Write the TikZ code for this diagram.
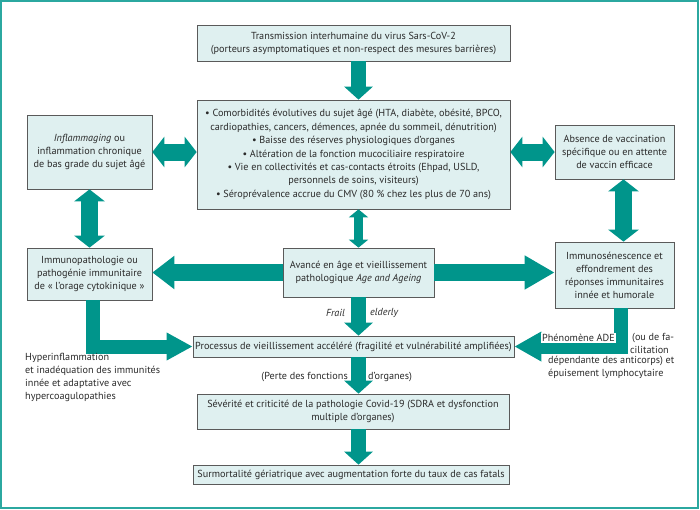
\documentclass[tikz,border=0pt]{standalone}
\usepackage{fontspec}
\setmainfont{PT Sans}
\usetikzlibrary{arrows.meta,shadows}
\definecolor{arrowteal}{HTML}{00958B}
\definecolor{frameteal}{HTML}{2BA8A0}
\definecolor{boxfill}{HTML}{DFF0F0}
\definecolor{boxline}{HTML}{5A5A5A}
\definecolor{textgray}{HTML}{2A2A2A}

\begin{document}
\begin{tikzpicture}[x=1pt,y=-1pt,font=\fontsize{10.2}{13}\selectfont,text=textgray,
    box/.style={draw=boxline,fill=boxfill,line width=0.7pt,align=center,inner sep=1pt,
        drop shadow={shadow xshift=0.8pt,shadow yshift=-0.8pt,fill=black!55,opacity=1}},
    flow/.style={arrowteal,line width=15pt,-{Triangle[width=28pt,length=13pt]}},
    bigflow/.style={arrowteal,line width=17pt,-{Triangle[width=32pt,length=#1]}},
    twoway/.style={arrowteal,line width=17pt,{Triangle[width=30pt,length=12pt]}-{Triangle[width=30pt,length=12pt]}},
    elbow/.style={arrowteal,line width=14pt,-{Triangle[width=26pt,length=26pt]}},
    note/.style={inner sep=0pt}]
    \useasboundingbox (0,0) rectangle (700,509);
    \draw[frameteal,line width=2pt] (1,1) rectangle (698,507.5);

    % boxes
    \node [box,minimum width=313pt,minimum height=36pt] (trans) at (353.5,43) {
        Transmission interhumaine du virus Sars-CoV-2\\
        (porteurs asymptomatiques et non-respect des mesures barrières)};
    \node [box,minimum width=313pt,minimum height=109pt,font=\fontsize{10.2}{13.4}\selectfont] (comorb) at (353.5,154.5) {
        • Comorbidités évolutives du sujet âgé (HTA, diabète, obésité, BPCO,\\
        cardiopathies, cancers, démences, apnée du sommeil, dénutrition)\\
        • Baisse des réserves physiologiques d’organes\\
        • Altération de la fonction mucociliaire respiratoire\\
        • Vie en collectivités et cas-contacts étroits (Ehpad, USLD,\\
        personnels de soins, visiteurs)\\
        • Séroprévalence accrue du CMV (80 \% chez les plus de 70 ans)};
    \node [box,minimum width=125pt,minimum height=74pt] (inflamm) at (89.5,152) {
        \textit{Inflammaging} ou\\inflammation chronique\\de bas grade du sujet âgé};
    \node [box,minimum width=119pt,minimum height=54pt] (vaccin) at (614.5,152) {
        Absence de vaccination\\spécifique ou en attente\\de vaccin efficace};
    \node [box,minimum width=125pt,minimum height=52pt] (immpath) at (89.5,274) {
        Immunopathologie ou\\pathogénie immunitaire\\de « l’orage cytokinique »};
    \node [box,minimum width=151pt,minimum height=49pt] (ageing) at (358.5,272.5) {
        Avancé en âge et vieillissement\\pathologique \textit{Age and Ageing}};
    \node [box,minimum width=119pt,minimum height=66pt] (immsen) at (614.5,275) {
        Immunosénescence et\\effondrement des\\réponses immunitaires\\innée et humorale};
    \node [box,minimum width=321pt,minimum height=21pt] (process) at (353.5,346.5) {
        Processus de vieillissement accéléré (fragilité et vulnérabilité amplifiées)};
    \node [box,minimum width=312pt,minimum height=35pt] (severity) at (353,411.5) {
        Sévérité et criticité de la pathologie Covid-19 (SDRA et dysfonction\\multiple d’organes)};
    \node [box,minimum width=316pt,minimum height=19pt] (mortality) at (351,474.5) {
        Surmortalité gériatrique avec augmentation forte du taux de cas fatals};

    % arrows
    \draw [flow] (trans.south -| ageing.south) -- (comorb.north -| ageing.south);
    \draw [twoway] (inflamm.east) -- (inflamm.east -| comorb.west);
    \draw [twoway] (vaccin.west -| comorb.east) -- (vaccin.west);
    \draw [twoway] (inflamm.south) -- (immpath.north);
    \draw [twoway] ([xshift=9pt]vaccin.south) -- ([xshift=9pt]immsen.north);
    \draw [arrowteal,line width=9pt,{Triangle[width=19pt,length=8pt]}-{Triangle[width=19pt,length=8pt]}]
        (ageing.north |- comorb.south) -- (ageing.north);
    \draw [bigflow=22pt] (ageing.west) -- (immpath.east |- ageing.west);
    \draw [bigflow=30pt] (ageing.east) -- (immsen.west |- ageing.east);
    \draw [flow] (ageing.south) -- (ageing.south |- process.north);
    \draw [flow] (process.south -| ageing.south) -- (severity.north -| ageing.south);
    \draw [flow] (severity.south -| ageing.south) -- (mortality.north -| ageing.south);
    \draw [elbow] ([xshift=3.5pt]immpath.south) |- (process.west);
    \draw [elbow,-{Triangle[width=28pt,length=27pt]}] ([xshift=6.5pt]immsen.south) |- (process.east);

    % labels
    \node [note,anchor=east] (frail) at (345,313) {\textit{Frail}};
    \node [note,anchor=west] (elderly) at (370,313) {\textit{elderly}};
    \node [note,anchor=east] (perte) at (348,377) {(Perte des fonctions};
    \node [note,anchor=west] (organes) at (368,377) {d’organes)};
    \node [note,anchor=north west,align=left] (hyper) at (25,353) {
        Hyperinflammation\\et inadéquation des immunités\\innée et adaptative avec\\hypercoagulopathies};
    \node [note,anchor=west,fill=white,inner sep=1pt] (ade) at (541,338) {Phénomène ADE};
    \node [note,anchor=west] (facil) at (632,338) {(ou de fa-};
    \node [note,anchor=east] (cilit) at (669,350) {cilitation};
    \node [note,anchor=north west,align=left] (anticorps) at (548,356) {
        dépendante des anticorps) et\\épuisement lymphocytaire};
\end{tikzpicture}
\end{document}
